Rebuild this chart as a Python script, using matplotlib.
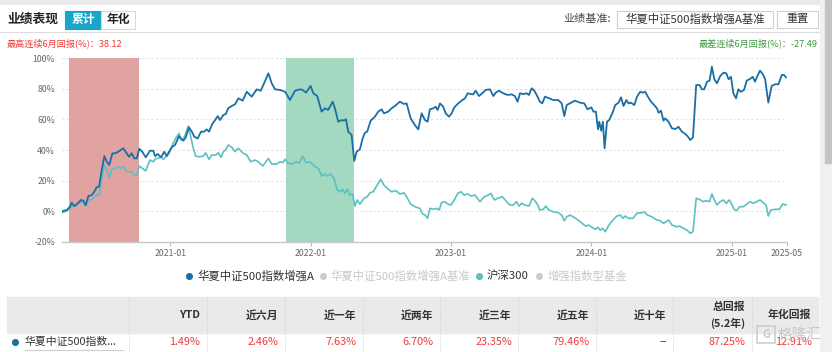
import matplotlib.pyplot as plt
from matplotlib.patches import Rectangle

plt.rcParams['font.family'] = ['Noto Sans CJK SC', 'DejaVu Sans']

# 华夏中证500指数增强A 累计收益 (%), x 为年份小数
fund_t = [2020.230, 2020.262, 2020.285, 2020.297, 2020.316, 2020.340, 2020.364, 2020.380, 2020.397, 2020.416,
          2020.440, 2020.458, 2020.475, 2020.492, 2020.511, 2020.530, 2020.547, 2020.565, 2020.587, 2020.606,
          2020.629, 2020.665, 2020.689, 2020.706, 2020.725, 2020.743, 2020.761, 2020.779, 2020.800, 2020.825,
          2020.855, 2020.879, 2020.891, 2020.910, 2020.934, 2020.957, 2020.974, 2020.991, 2021.014, 2021.034,
          2021.062, 2021.076, 2021.093, 2021.110, 2021.133, 2021.153, 2021.171, 2021.195, 2021.219, 2021.242,
          2021.259, 2021.276, 2021.299, 2021.319, 2021.338, 2021.354, 2021.378, 2021.395, 2021.413, 2021.438,
          2021.461, 2021.485, 2021.516, 2021.545, 2021.580, 2021.616, 2021.644, 2021.668, 2021.699, 2021.723,
          2021.746, 2021.782, 2021.818, 2021.853, 2021.889, 2021.924, 2021.944, 2021.967, 2022.000, 2022.019,
          2022.047, 2022.078, 2022.102, 2022.125, 2022.157, 2022.173, 2022.197, 2022.221, 2022.237, 2022.252,
          2022.268, 2022.292, 2022.311, 2022.328, 2022.351, 2022.371, 2022.387, 2022.403, 2022.428, 2022.458,
          2022.482, 2022.506, 2022.522, 2022.553, 2022.577, 2022.601, 2022.636, 2022.665, 2022.684, 2022.713,
          2022.743, 2022.767, 2022.791, 2022.815, 2022.834, 2022.850, 2022.874, 2022.891, 2022.905, 2022.922,
          2022.945, 2022.962, 2022.986, 2023.005, 2023.024, 2023.052, 2023.081, 2023.100, 2023.119, 2023.143,
          2023.159, 2023.176, 2023.200, 2023.223, 2023.247, 2023.278, 2023.302, 2023.319, 2023.342, 2023.373,
          2023.404, 2023.433, 2023.456, 2023.475, 2023.492, 2023.515, 2023.540, 2023.556, 2023.575, 2023.594,
          2023.611, 2023.634, 2023.651, 2023.670, 2023.699, 2023.729, 2023.765, 2023.789, 2023.808, 2023.825,
          2023.848, 2023.884, 2023.919, 2023.950, 2023.974, 2024.000, 2024.016, 2024.033, 2024.048, 2024.057,
          2024.071, 2024.083, 2024.095, 2024.112, 2024.128, 2024.155, 2024.171, 2024.195, 2024.212, 2024.230,
          2024.250, 2024.266, 2024.283, 2024.307, 2024.326, 2024.349, 2024.369, 2024.385, 2024.401, 2024.426,
          2024.449, 2024.468, 2024.480, 2024.497, 2024.515, 2024.527, 2024.551, 2024.575, 2024.599, 2024.622,
          2024.646, 2024.670, 2024.686, 2024.706, 2024.725, 2024.748, 2024.772, 2024.789, 2024.805, 2024.825,
          2024.843, 2024.860, 2024.877, 2024.896, 2024.919, 2024.943, 2024.962, 2024.979, 2024.996, 2025.013,
          2025.032, 2025.048, 2025.066, 2025.089, 2025.108, 2025.132, 2025.151, 2025.167, 2025.184, 2025.203,
          2025.222, 2025.239, 2025.262, 2025.286, 2025.310, 2025.334, 2025.358, 2025.374, 2025.388]
fund_v = [0.0, 0.7, 2.9, 5.5, 3.3, 5.1, 7.3, 6.8, 4.0, 9.9,
          10.5, 12.7, 15.6, 16.0, 26.9, 36.0, 32.3, 30.2, 37.8, 37.8,
          38.9, 41.1, 37.8, 35.6, 37.8, 34.5, 34.5, 40.8, 38.9, 35.2,
          39.5, 39.5, 36.0, 37.4, 35.2, 38.9, 36.0, 38.9, 42.1, 43.3,
          49.1, 47.6, 46.1, 48.3, 54.8, 52.0, 48.7, 47.6, 52.0, 52.0,
          53.5, 52.0, 57.0, 59.6, 62.2, 59.6, 62.9, 63.5, 67.3, 68.8,
          69.9, 73.8, 72.3, 78.1, 74.9, 79.7, 78.8, 83.6, 90.2, 83.6,
          79.7, 79.3, 78.1, 72.7, 78.8, 79.7, 79.3, 77.5, 81.9, 77.1,
          75.3, 65.1, 67.3, 66.2, 71.6, 67.3, 58.5, 59.6, 59.2, 60.1,
          52.0, 49.8, 32.8, 38.9, 40.4, 47.6, 51.3, 52.0, 59.2, 61.8,
          65.1, 66.6, 64.0, 65.1, 67.3, 68.8, 71.6, 70.1, 70.5, 60.7,
          56.3, 53.5, 64.0, 59.6, 58.5, 66.6, 67.3, 68.3, 66.2, 70.5,
          68.3, 64.0, 61.8, 64.0, 67.9, 70.5, 72.7, 73.8, 77.1, 76.6,
          76.4, 78.8, 75.3, 77.1, 79.3, 79.7, 75.3, 77.5, 78.8, 77.1,
          76.0, 76.4, 75.3, 71.6, 77.1, 76.6, 77.1, 76.0, 80.4, 78.8,
          76.0, 71.6, 70.5, 74.9, 73.8, 72.7, 72.7, 70.5, 62.2, 69.4,
          70.5, 72.3, 71.0, 70.5, 66.6, 67.9, 65.1, 65.1, 53.5, 58.5,
          52.6, 58.5, 41.1, 58.5, 59.6, 65.1, 69.4, 71.0, 74.5, 68.8,
          72.7, 70.5, 71.0, 69.4, 74.9, 78.1, 77.5, 78.1, 75.3, 71.6,
          69.4, 67.3, 64.4, 65.7, 59.2, 60.7, 58.5, 54.2, 53.7, 55.2,
          52.0, 50.5, 49.1, 46.5, 48.3, 82.5, 82.5, 79.7, 79.7, 84.7,
          85.3, 94.5, 86.3, 83.6, 88.4, 90.6, 90.2, 86.3, 87.9, 77.1,
          73.8, 79.7, 78.1, 79.3, 85.4, 86.5, 87.9, 84.7, 88.4, 91.9,
          89.7, 86.5, 71.0, 81.9, 83.0, 83.0, 89.1, 89.1, 87.6]

# 沪深300 累计收益 (%)
hs300_t = [2020.230, 2020.262, 2020.285, 2020.309, 2020.326, 2020.356, 2020.373, 2020.397, 2020.416, 2020.440,
           2020.458, 2020.475, 2020.494, 2020.511, 2020.530, 2020.547, 2020.565, 2020.587, 2020.606, 2020.629,
           2020.649, 2020.665, 2020.682, 2020.706, 2020.729, 2020.743, 2020.761, 2020.779, 2020.800, 2020.825,
           2020.855, 2020.879, 2020.896, 2020.914, 2020.934, 2020.950, 2020.974, 2020.991, 2021.014, 2021.038,
           2021.062, 2021.076, 2021.093, 2021.110, 2021.128, 2021.148, 2021.164, 2021.181, 2021.205, 2021.235,
           2021.252, 2021.276, 2021.295, 2021.324, 2021.342, 2021.361, 2021.378, 2021.395, 2021.413, 2021.438,
           2021.461, 2021.485, 2021.520, 2021.545, 2021.573, 2021.604, 2021.627, 2021.659, 2021.699, 2021.723,
           2021.758, 2021.782, 2021.801, 2021.818, 2021.841, 2021.872, 2021.896, 2021.919, 2021.944, 2021.967,
           2021.996, 2022.031, 2022.054, 2022.078, 2022.102, 2022.118, 2022.143, 2022.166, 2022.190, 2022.209,
           2022.228, 2022.244, 2022.261, 2022.280, 2022.299, 2022.316, 2022.332, 2022.351, 2022.380, 2022.403,
           2022.423, 2022.446, 2022.470, 2022.499, 2022.522, 2022.546, 2022.577, 2022.608, 2022.636, 2022.665,
           2022.684, 2022.713, 2022.743, 2022.779, 2022.798, 2022.815, 2022.834, 2022.850, 2022.874, 2022.901,
           2022.917, 2022.932, 2022.955, 2022.979, 2023.000, 2023.024, 2023.048, 2023.071, 2023.095, 2023.119,
           2023.143, 2023.171, 2023.207, 2023.237, 2023.266, 2023.285, 2023.309, 2023.333, 2023.366, 2023.397,
           2023.421, 2023.444, 2023.468, 2023.485, 2023.504, 2023.527, 2023.556, 2023.580, 2023.599, 2023.618,
           2023.634, 2023.658, 2023.675, 2023.699, 2023.729, 2023.765, 2023.789, 2023.808, 2023.825, 2023.848,
           2023.879, 2023.912, 2023.936, 2023.960, 2023.984, 2024.005, 2024.029, 2024.048, 2024.064, 2024.081,
           2024.100, 2024.119, 2024.135, 2024.159, 2024.183, 2024.207, 2024.226, 2024.242, 2024.266, 2024.297,
           2024.326, 2024.361, 2024.378, 2024.401, 2024.433, 2024.468, 2024.492, 2024.515, 2024.551, 2024.575,
           2024.606, 2024.629, 2024.658, 2024.682, 2024.706, 2024.725, 2024.748, 2024.772, 2024.796, 2024.820,
           2024.843, 2024.860, 2024.877, 2024.896, 2024.919, 2024.943, 2024.962, 2024.984, 2025.001, 2025.018,
           2025.037, 2025.056, 2025.084, 2025.108, 2025.132, 2025.155, 2025.180, 2025.203, 2025.227, 2025.246,
           2025.262, 2025.279, 2025.310, 2025.341, 2025.365, 2025.388]
hs300_v = [-1.0, 0.3, 1.8, 4.0, 3.3, 6.2, 5.5, 3.3, 7.3, 7.7,
           9.4, 10.5, 10.5, 20.4, 30.2, 26.9, 22.1, 28.0, 27.4, 29.1,
           28.0, 29.1, 26.4, 25.8, 25.8, 23.6, 23.6, 29.5, 28.0, 26.4,
           33.4, 32.3, 34.5, 34.5, 35.6, 33.9, 36.0, 37.8, 43.3, 47.6,
           50.9, 46.5, 47.0, 50.9, 55.7, 47.6, 41.1, 36.0, 35.6, 36.0,
           38.2, 33.9, 36.7, 36.7, 38.2, 35.2, 38.9, 40.0, 43.3, 41.8,
           38.9, 41.1, 37.8, 36.7, 32.3, 33.4, 32.3, 29.5, 34.5, 30.8,
           30.8, 32.3, 31.7, 33.9, 31.3, 30.8, 32.3, 31.3, 36.0, 31.7,
           32.3, 29.1, 28.0, 23.0, 24.3, 23.0, 24.3, 21.5, 13.8, 12.7,
           14.3, 11.6, 14.3, 10.5, 11.2, 3.3, 7.3, 4.6, 8.4, 9.4,
           12.0, 12.7, 16.4, 20.8, 17.1, 14.9, 12.7, 13.4, 11.2, 12.0,
           9.4, 4.6, 2.9, 1.8, -1.9, -2.5, -4.7, 1.8, 1.2, 1.8,
           0.7, 5.5, 6.2, 4.6, 4.0, 7.3, 11.6, 12.7, 10.5, 11.2,
           9.9, 10.5, 6.2, 9.4, 10.5, 11.6, 7.3, 8.4, 9.4, 6.2,
           4.0, 4.0, 6.2, 3.3, 5.1, 4.0, 3.3, 8.4, 6.8, 4.0,
           0.7, 1.2, 3.3, 0.7, -0.4, -1.0, -2.6, -6.3, -3.7, -2.6,
           -4.1, -6.3, -8.0, -9.8, -9.1, -10.6, -11.9, -10.6, -12.4, -11.3,
           -13.5, -10.2, -8.0, -5.4, -3.2, -2.6, -4.7, -3.2, -4.7, -4.7,
           -1.4, -1.0, -0.6, -2.6, -3.7, -5.8, -6.3, -8.0, -5.8, -9.1,
           -10.2, -9.8, -11.3, -12.4, -14.5, -13.5, 8.4, 7.7, 6.2, 6.8,
           6.2, 11.2, 7.3, 4.0, 6.2, 7.3, 5.1, 7.3, 4.6, 1.2,
           0.3, 2.9, 2.9, 4.6, 6.2, 5.1, 6.2, 7.3, 5.5, 4.0,
           -3.2, 0.7, 1.2, 1.2, 4.6, 4.0]

best_span = (2020.280, 2020.775)    # 最高连续6月
worst_span = (2021.823, 2022.309)   # 最差连续6月
best_6m = '38.12'
worst_6m = '-27.49'

x_ticks = [2021.0, 2022.0, 2023.0, 2024.0, 2025.0, 2025.393]
x_labels = ['2021-01', '2022-01', '2023-01', '2024-01', '2025-01', '2025-05']
y_ticks = [-20, 0, 20, 40, 60, 80, 100]

legend_labels = ['华夏中证500指数增强A', '华夏中证500指数增强A基准', '沪深300', '增强指数型基金']
legend_on = [True, False, True, False]

table_cols = ['YTD', '近六月', '近一年', '近两年', '近三年', '近五年', '近十年', '总回报', '年化回报']
table_vals = ['1.49%', '2.46%', '7.63%', '6.70%', '23.35%', '79.46%', '--', '87.25%', '12.91%']
fund_short = '华夏中证500指数...'

# 颜色
c_fund = '#1c6ea4'
c_hs = '#5cc0c3'
c_red = '#f03a3a'
c_green = '#3c9a3c'

W, H = 832, 352
fig = plt.figure(figsize=(W / 100, H / 100), dpi=100)

# 页面背景层 (像素坐标, y 向下)
ui = fig.add_axes([0, 0, 1, 1])
ui.set_xlim(0, W)
ui.set_ylim(H, 0)
ui.axis('off')
ui.add_patch(Rectangle((0, 0), W, H, color='#e9e9e9'))
ui.add_patch(Rectangle((0, 5), 819, H, color='white'))
ui.add_patch(Rectangle((820, 0), 12, H, color='#f1f1f1'))
ui.add_patch(Rectangle((825, 0), 6, 163, color='#c3c3c3'))

# 标题栏
ui.text(7, 19, '业绩表现', fontsize=9.2, fontweight='bold', color='#222', va='center')
ui.add_patch(Rectangle((65, 10.7), 36, 18.6, facecolor='#17a6c7', edgecolor='#17a6c7', lw=0.8))
ui.text(83, 19.5, '累计', fontsize=8.5, fontweight='bold', color='white', ha='center', va='center')
ui.add_patch(Rectangle((101, 10.7), 34, 18.6, facecolor='white', edgecolor='#d9d9d9', lw=0.8))
ui.text(118, 19.5, '年化', fontsize=8.5, fontweight='bold', color='#222', ha='center', va='center')
ui.text(611, 19, '业绩基准:', fontsize=8, color='#444', ha='right', va='center')
ui.add_patch(Rectangle((617.3, 10.5), 156, 17.5, facecolor='white', edgecolor='#d0d0d0', lw=0.8))
ui.text(625, 19, '华夏中证500指数增强A基准', fontsize=8.2, color='#333', va='center')
ui.add_patch(Rectangle((776.7, 10.5), 41.5, 17.5, facecolor='white', edgecolor='#d0d0d0', lw=0.8))
ui.text(797.5, 19, '重置', fontsize=8, color='#333', ha='center', va='center')
ui.plot([0, 819], [32.3, 32.3], color='#dcdcdc', lw=0.8)

ui.text(6.7, 43.3, f'最高连续6月回报(%)：{best_6m}', fontsize=6.6, color=c_red, va='center')
ui.text(818, 43.3, f'最差连续6月回报(%)：{worst_6m}', fontsize=6.6, color=c_green, ha='right', va='center')

# 主图
ax = fig.add_axes([62 / W, 1 - 241.7 / H, (786.7 - 62) / W, (241.7 - 58.3) / H])
ax.set_xlim(2020.228, 2025.393)
ax.set_ylim(-20, 100)
ax.axvspan(*best_span, color='#e1a2a2', lw=0, zorder=1)
ax.axvspan(*worst_span, color='#a3d9c1', lw=0, zorder=1)
for y in y_ticks[1:]:
    ax.axhline(y, color='#e3e3e3', lw=0.8, ls=(0, (2, 2)), zorder=0)
ax.plot(hs300_t, hs300_v, color=c_hs, lw=1.2, zorder=3)
ax.plot(fund_t, fund_v, color=c_fund, lw=1.3, zorder=4)

ax.set_yticks(y_ticks)
ax.set_yticklabels([f'{y}%' for y in y_ticks])
ax.set_xticks(x_ticks)
ax.set_xticklabels(x_labels)
ax.tick_params(axis='y', length=0, pad=5, labelsize=6.3, labelcolor='#666')
ax.tick_params(axis='x', length=3, width=0.8, color='#bbb', pad=2.5, labelsize=6.3, labelcolor='#666')
for s in ['top', 'right', 'left']:
    ax.spines[s].set_visible(False)
ax.spines['bottom'].set_color('#c8c8c8')
ax.spines['bottom'].set_linewidth(1)

# 图例
legend_x = [189, 322.7, 479, 539.3]
legend_dot = [c_fund, '#cccccc', c_hs, '#cccccc']
for lx, lab, col, on in zip(legend_x, legend_labels, legend_dot, legend_on):
    ui.scatter([lx], [275.7], s=26, color=col, lw=0)
    ui.text(lx + 8, 276, lab, fontsize=8.2, color='#333' if on else '#c8c8c8', va='center')

# 表格
col_edges = [7, 129.3, 206.7, 284.7, 362.7, 440, 518.3, 595.7, 673.3, 751.7, 818]
ui.add_patch(Rectangle((7, 297.3), 811, 35.4, color='#eaeaed'))
for xe in col_edges[1:-1]:
    ui.plot([xe, xe], [297.3, 352], color='#cfcfcf', lw=0.7, ls=(0, (1, 1.5)))
for i, (name, val) in enumerate(zip(table_cols, table_vals)):
    xr = col_edges[i + 2] - 6.5
    if name == '总回报':
        ui.text(xr, 306.5, name, fontsize=7.8, fontweight='bold', color='#333', ha='right', va='center')
        ui.text(xr, 323.3, '(5.2年)', fontsize=7.8, fontweight='bold', color='#333', ha='right', va='center')
    else:
        ui.text(xr, 315, name, fontsize=7.8, fontweight='bold', color='#333', ha='right', va='center')
    ui.text(xr, 342, val, fontsize=7.8, color='#333' if val == '--' else c_red, ha='right', va='center')
ui.scatter([15], [341.7], s=26, color=c_fund, lw=0)
ui.text(25, 342, fund_short, fontsize=7.8, color='#333', va='center')
ui.plot([25, 123], [349.5, 349.5], color='#cfcfcf', lw=0.8)

# 水印
ui.add_patch(Rectangle((757, 326), 18, 17, facecolor='none', edgecolor='#c9c9c9', lw=1.2, alpha=0.9))
ui.text(766, 334.5, 'G', fontsize=8, color='#c9c9c9', ha='center', va='center', fontweight='bold')
ui.text(778, 334.5, '格隆汇', fontsize=10.5, color='#c4c4c4', va='center', alpha=0.92)

fig.savefig('out.png', dpi=100)
